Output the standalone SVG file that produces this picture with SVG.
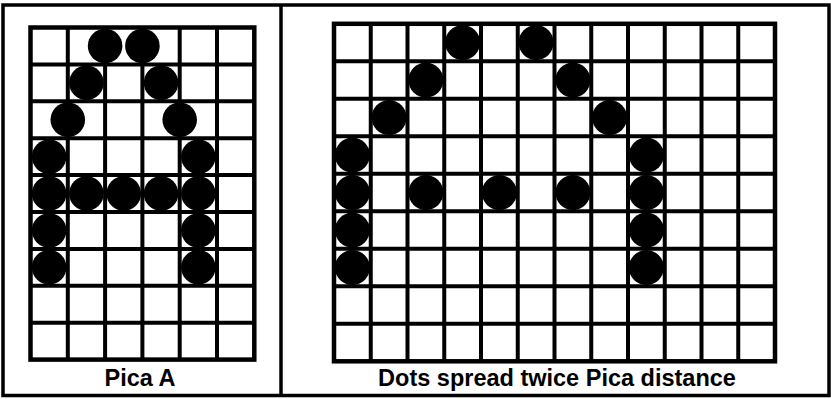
<svg xmlns="http://www.w3.org/2000/svg" width="831" height="399" viewBox="0 0 831 399">
  <style>
    .frame { fill: none; stroke: #000; stroke-width: 3.5; }
    .grid { stroke: #000; stroke-width: 4; fill: none; }
    .gbox { fill: #fff; stroke: #000; stroke-width: 4.5; }
    .dot { fill: #000; }
    .lbl { font-family: "Liberation Sans", Arial, Helvetica, sans-serif; font-weight: bold; font-size: 23.5px; fill: #000; text-anchor: middle; }
  </style>
  <rect x="0" y="0" width="831" height="399" fill="#fff"/>
  <g id="frame">
    <rect class="frame" x="3" y="5" width="826" height="390.5"/>
    <line class="frame" x1="281" y1="5" x2="281" y2="395.5" stroke-width="3"/>
  </g>

  <g id="pica-a">
    <rect class="gbox" x="30.5" y="27.5" width="223.8" height="332.1"/>
    <path class="grid" d="M67.8 27.5V359.6M105.1 27.5V359.6M142.4 27.5V359.6M179.7 27.5V359.6M217 27.5V359.6
      M30.5 64.4H254.3M30.5 101.3H254.3M30.5 138.2H254.3M30.5 175.1H254.3M30.5 212H254.3M30.5 248.9H254.3M30.5 285.8H254.3M30.5 322.7H254.3"/>
    <g class="dot">
      <circle cx="105.1" cy="45.95" r="17.3"/>
      <circle cx="142.4" cy="45.95" r="17.3"/>
      <circle cx="86.45" cy="82.85" r="17.3"/>
      <circle cx="161.05" cy="82.85" r="17.3"/>
      <circle cx="67.8" cy="119.75" r="17.3"/>
      <circle cx="179.7" cy="119.75" r="17.3"/>
      <circle cx="49.15" cy="156.65" r="17.3"/>
      <circle cx="198.35" cy="156.65" r="17.3"/>
      <circle cx="49.15" cy="193.55" r="17.3"/>
      <circle cx="86.45" cy="193.55" r="17.3"/>
      <circle cx="123.75" cy="193.55" r="17.3"/>
      <circle cx="161.05" cy="193.55" r="17.3"/>
      <circle cx="198.35" cy="193.55" r="17.3"/>
      <circle cx="49.15" cy="230.45" r="17.3"/>
      <circle cx="198.35" cy="230.45" r="17.3"/>
      <circle cx="49.15" cy="267.35" r="17.3"/>
      <circle cx="198.35" cy="267.35" r="17.3"/>
    </g>
    <text class="lbl" x="140" y="385.5">Pica A</text>
  </g>

  <g id="spread">
    <rect class="gbox" x="334" y="23.8" width="441" height="337.5"/>
    <path class="grid" d="M370.75 23.8V361.3M407.5 23.8V361.3M444.25 23.8V361.3M481 23.8V361.3M517.75 23.8V361.3M554.5 23.8V361.3M591.25 23.8V361.3M628 23.8V361.3M664.75 23.8V361.3M701.5 23.8V361.3M738.25 23.8V361.3
      M334 61.3H775M334 98.8H775M334 136.3H775M334 173.8H775M334 211.3H775M334 248.8H775M334 286.3H775M334 323.8H775"/>
    <g class="dot">
      <circle cx="462.6" cy="42.55" r="17.5"/>
      <circle cx="536.1" cy="42.55" r="17.5"/>
      <circle cx="425.9" cy="80.05" r="17.5"/>
      <circle cx="572.9" cy="80.05" r="17.5"/>
      <circle cx="389.1" cy="117.55" r="17.5"/>
      <circle cx="609.6" cy="117.55" r="17.5"/>
      <circle cx="352.4" cy="155.05" r="17.5"/>
      <circle cx="646.4" cy="155.05" r="17.5"/>
      <circle cx="352.4" cy="192.55" r="17.5"/>
      <circle cx="425.9" cy="192.55" r="17.5"/>
      <circle cx="499.4" cy="192.55" r="17.5"/>
      <circle cx="572.9" cy="192.55" r="17.5"/>
      <circle cx="646.4" cy="192.55" r="17.5"/>
      <circle cx="352.4" cy="230.05" r="17.5"/>
      <circle cx="646.4" cy="230.05" r="17.5"/>
      <circle cx="352.4" cy="267.55" r="17.5"/>
      <circle cx="646.4" cy="267.55" r="17.5"/>
    </g>
    <text class="lbl" x="557" y="385.5">Dots spread twice Pica distance</text>
  </g>
</svg>
